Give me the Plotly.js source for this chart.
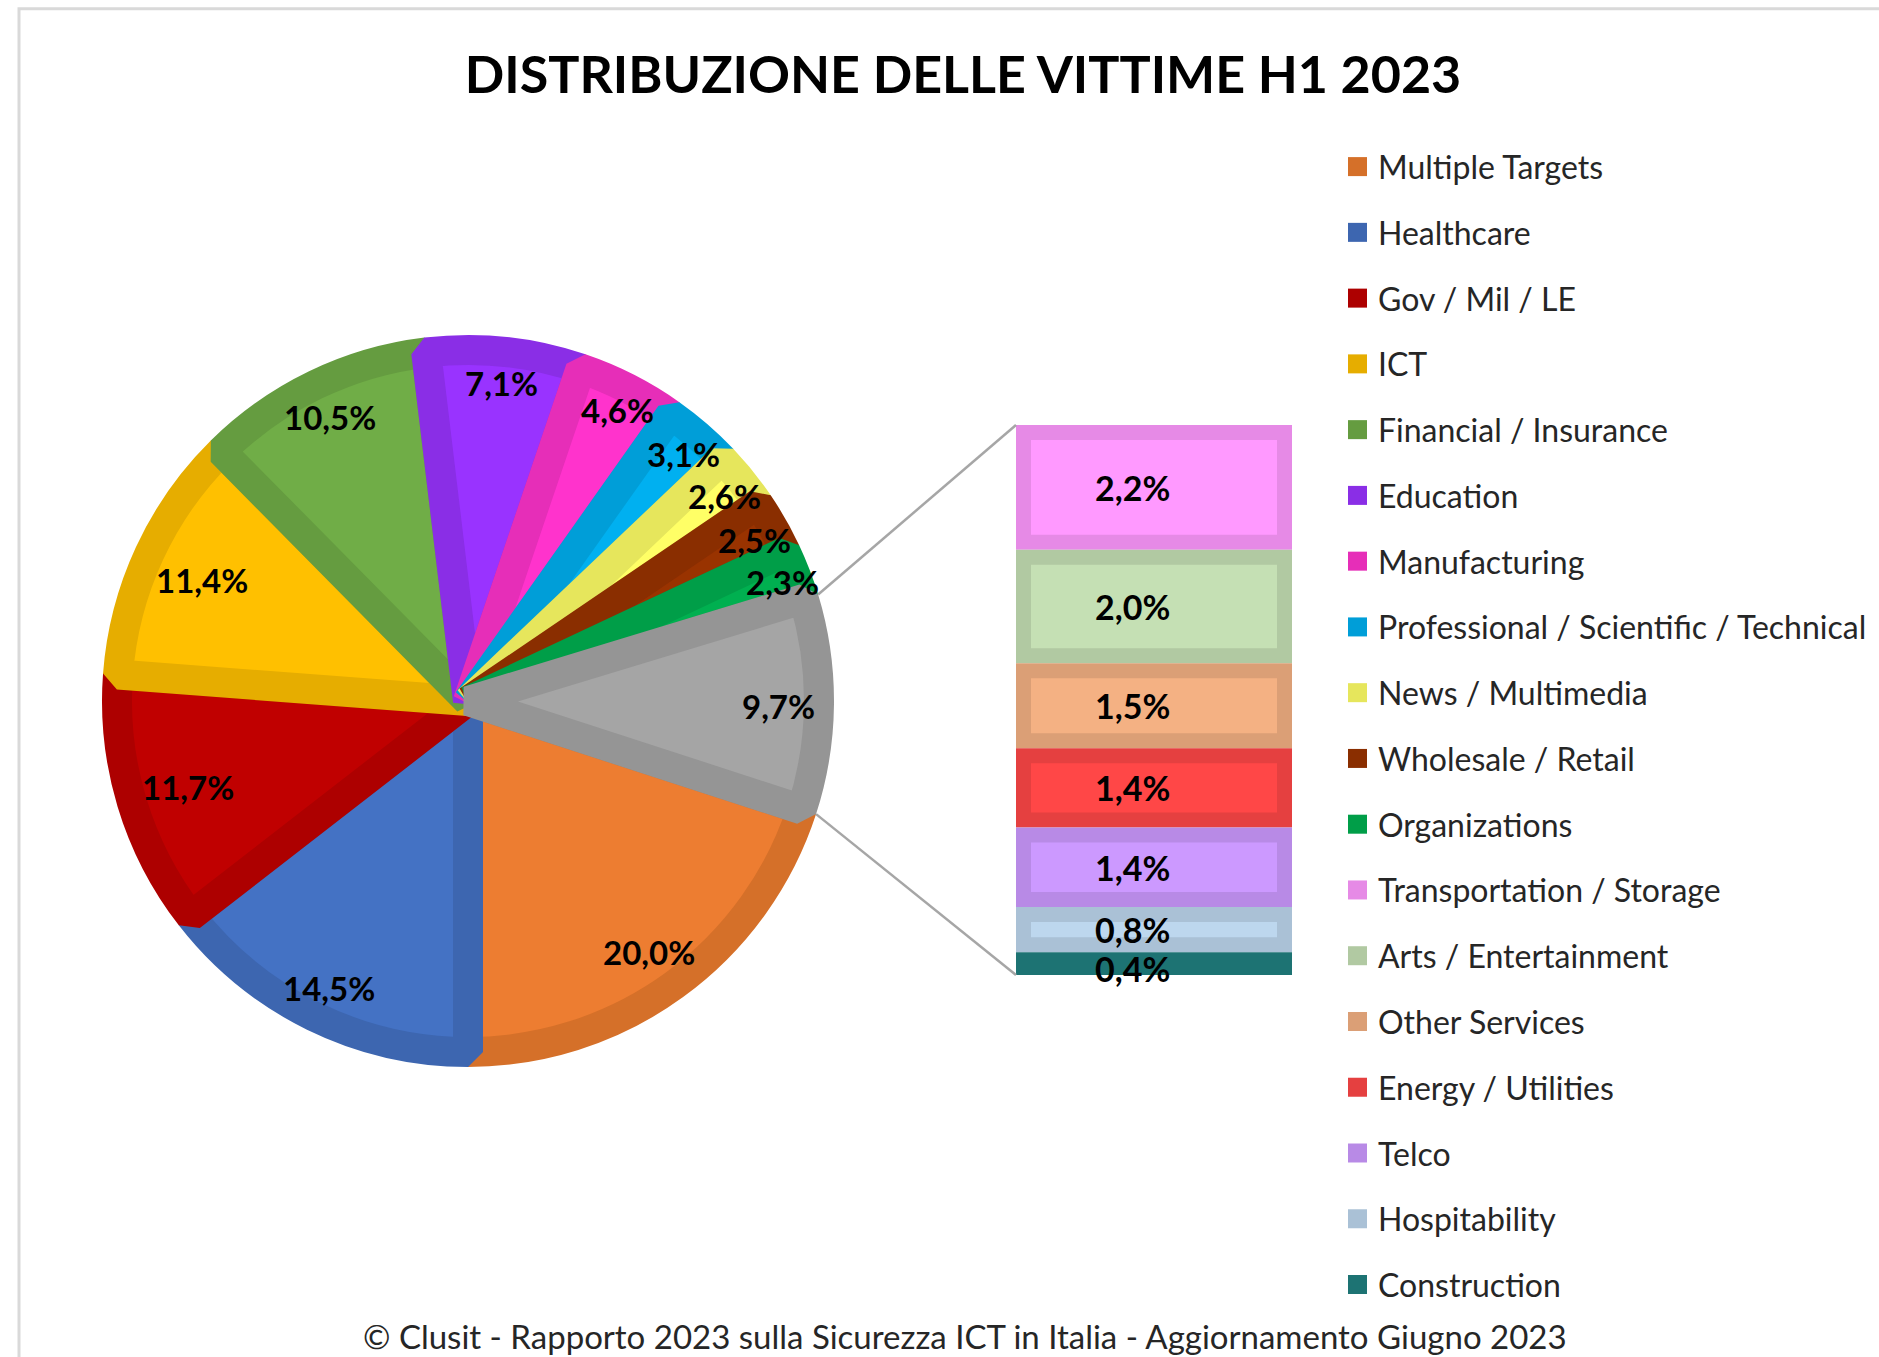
<!DOCTYPE html>
<html>
<head>
<meta charset="utf-8">
<script src="https://cdn.plot.ly/plotly-3.0.1.min.js"></script>
<style>
html, body { margin: 0; padding: 0; background: #ffffff; }
#chart { width: 1879px; height: 1357px; }
.pielayer path.surface { stroke-linejoin: bevel; }
</style>
</head>
<body>
<div id="chart"></div>
<script>
// ---------------- DATA ----------------
const pieLabels = ['Multiple Targets', 'Healthcare', 'Gov / Mil / LE', 'ICT', 'Financial / Insurance',
  'Education', 'Manufacturing', 'Professional / Scientific / Technical', 'News / Multimedia',
  'Wholesale / Retail', 'Organizations', 'Altri settori'];
const pieValues = [20.0, 14.5, 11.7, 11.4, 10.5, 7.1, 4.6, 3.1, 2.6, 2.5, 2.3, 9.7];

const subLabels = ['Transportation / Storage', 'Arts / Entertainment', 'Other Services',
  'Energy / Utilities', 'Telco', 'Hospitability', 'Construction'];
const subValues = [2.2, 2.0, 1.5, 1.4, 1.4, 0.8, 0.4];

const titleText = 'DISTRIBUZIONE DELLE VITTIME H1 2023';
const footerText = '© Clusit - Rapporto 2023 sulla Sicurezza ICT in Italia - Aggiornamento Giugno 2023';

// ---------------- STYLES ----------------
const pieFill = ['#ED7D31', '#4472C4', '#C00000', '#FFC000', '#70AD47', '#9933FF', '#FF33CC',
  '#00B0F0', '#FFFF66', '#993300', '#00B050', '#A5A5A5'];
const pieEdge = ['#D57029', '#3D66B0', '#AD0000', '#E6AD00', '#659C40', '#8A2EE6', '#E62EB8',
  '#009ED8', '#E6E65C', '#8A2E00', '#009E48', '#959595'];
const subFill = ['#FF99FF', '#C5E0B4', '#F4B183', '#FF4747', '#CC99FF', '#BDD7EE', '#208080'];
const subEdge = ['#E68AE6', '#B1C9A2', '#DB9F76', '#E54040', '#B88AE6', '#AAC1D6', '#1D7373'];

const W = 1879, H = 1357;
const FONT = 'Lato, "Noto Sans", sans-serif';
const pieC = { x: 468, y: 701 }, pieR = 366, rim = 15;
const barBox = { x0: 1016, x1: 1292, y0: 425, y1: 975 };
const ROT = 108;

const fx = p => p / W;
const fy = p => 1 - p / H;
const fmt = v => v.toFixed(1).replace('.', ',') + '%';
const sum = a => a.reduce((s, v) => s + v, 0);

const shapes = [];
const annotations = [];

// frame
shapes.push({ type: 'rect', xref: 'paper', yref: 'paper', layer: 'below',
  x0: fx(19), x1: fx(W + 30), y0: fy(H + 30), y1: fy(8.7),
  line: { color: '#D9D9D9', width: 3 }, fillcolor: 'rgba(0,0,0,0)' });

// ---------------- PIE ----------------
const pieTotal = sum(pieValues);
const rIn = pieR - rim;
const pie = {
  type: 'pie', labels: pieLabels, values: pieValues, sort: false,
  direction: 'clockwise', rotation: ROT,
  marker: { colors: pieFill, line: { color: pieEdge, width: 2 * rim } },
  textinfo: 'none', hoverinfo: 'label+percent', showlegend: false,
  domain: { x: [fx(pieC.x - rIn), fx(pieC.x + rIn)], y: [fy(pieC.y + rIn), fy(pieC.y - rIn)] }
};

let acc = 0;
const angleStart = [];
pieValues.forEach((v, i) => {
  const span = v / pieTotal * 360;
  angleStart.push(ROT + acc);
  const mid = (ROT + acc + span / 2) * Math.PI / 180;
  acc += span;
  const dx = Math.sin(mid), dy = -Math.cos(mid);
  const t = fmt(v);
  const hw = t.length * 9, hh = 14;
  const ext = hw * Math.abs(dx) + hh * Math.abs(dy);
  const d = v < 2.4 ? 0.92 * pieR : (v < 5 ? 0.9 * pieR : Math.min(0.88 * pieR, pieR + 6 - 1.7 * ext));
  annotations.push({ xref: 'paper', yref: 'paper', x: fx(pieC.x + d * dx), y: fy(pieC.y + d * dy),
    xanchor: 'center', yanchor: 'middle', yshift: -2, showarrow: false, text: t,
    font: { family: FONT, size: 33, color: '#000000', weight: 700 } });
});

// connector lines from the "other" slice to the bar
const oi = pieValues.length - 1;
const aTop = angleStart[oi] * Math.PI / 180;
const aBot = (angleStart[oi] + pieValues[oi] / pieTotal * 360) * Math.PI / 180;
const edgePt = a => ({ x: pieC.x + pieR * Math.sin(a), y: pieC.y - pieR * Math.cos(a) });
const pT = edgePt(aTop), pB = edgePt(aBot);
shapes.push({ type: 'line', xref: 'paper', yref: 'paper', x0: fx(pT.x), y0: fy(pT.y),
  x1: fx(barBox.x0), y1: fy(barBox.y0), line: { color: '#A6A6A6', width: 2.5 } });
shapes.push({ type: 'line', xref: 'paper', yref: 'paper', x0: fx(pB.x), y0: fy(pB.y),
  x1: fx(barBox.x0), y1: fy(barBox.y1), line: { color: '#A6A6A6', width: 2.5 } });

// ---------------- STACKED BAR ----------------
const subTotal = sum(subValues);
const subBase = subValues.map((v, i) => sum(subValues.slice(i + 1)));
const pxPerUnit = (barBox.y1 - barBox.y0) / subTotal;
const insetY = rim / pxPerUnit;
const insetX = rim / (barBox.x1 - barBox.x0);
const zeros = subValues.map(() => 0);

const barOuter = { type: 'bar', x: zeros, y: subValues, base: subBase, width: 1,
  marker: { color: subEdge, line: { width: 0 } }, showlegend: false, hoverinfo: 'skip',
  xaxis: 'x', yaxis: 'y' };
const barInner = { type: 'bar', x: zeros, y: subValues.map(v => Math.max(v - 2 * insetY, 0)),
  base: subBase.map(b => b + insetY), width: 1 - 2 * insetX,
  marker: { color: subFill, line: { width: 0 } }, showlegend: false,
  text: subLabels, hoverinfo: 'text', textposition: 'none', xaxis: 'x', yaxis: 'y' };

subValues.forEach((v, i) => {
  const thin = v * pxPerUnit < 30;
  annotations.push({ xref: 'x', yref: 'y', x: 0, y: subBase[i] + v / 2, xshift: -22,
    yshift: thin ? -5 : 0,
    xanchor: 'center', yanchor: 'middle', showarrow: false, text: fmt(v),
    font: { family: FONT, size: 34, color: '#000000', weight: 700 } });
});

// ---------------- LEGEND ----------------
const legendLabels = pieLabels.slice(0, oi).concat(subLabels);
const legendColors = pieEdge.slice(0, oi).concat(subEdge);
const legTop = 166.6, legStep = 65.76, legSqX = 1348, legSq = 19, legTextX = 1376;
legendLabels.forEach((lab, i) => {
  const y = legTop + i * legStep;
  shapes.push({ type: 'rect', xref: 'paper', yref: 'paper',
    x0: fx(legSqX), x1: fx(legSqX + legSq), y0: fy(y + legSq / 2), y1: fy(y - legSq / 2),
    fillcolor: legendColors[i], line: { width: 0 } });
  annotations.push({ xref: 'paper', yref: 'paper', x: fx(legTextX), y: fy(y),
    xanchor: 'left', yanchor: 'middle', showarrow: false, text: lab,
    font: { family: FONT, size: 32, color: '#262626' } });
});

// footer
annotations.push({ xref: 'paper', yref: 'paper', x: fx(965), y: fy(1336),
  xanchor: 'center', yanchor: 'middle', showarrow: false, text: footerText,
  font: { family: FONT, size: 33, color: '#262626' } });

const layout = {
  width: W, height: H,
  margin: { l: 0, r: 0, t: 0, b: 0, pad: 0 },
  paper_bgcolor: '#FFFFFF', plot_bgcolor: 'rgba(0,0,0,0)',
  title: { text: titleText, x: fx(963), xanchor: 'center', xref: 'paper',
    y: fy(75), yanchor: 'middle', yref: 'container',
    font: { family: FONT, size: 52, color: '#000000', weight: 700 } },
  xaxis: { domain: [fx(barBox.x0), fx(barBox.x1)], range: [-0.5, 0.5], visible: false, fixedrange: true },
  yaxis: { domain: [fy(barBox.y1), fy(barBox.y0)], range: [0, subTotal], visible: false, fixedrange: true },
  barmode: 'overlay',
  showlegend: false,
  shapes: shapes,
  annotations: annotations
};

Plotly.newPlot('chart', [pie, barOuter, barInner], layout, { displayModeBar: false, responsive: false });
</script>
</body>
</html>
